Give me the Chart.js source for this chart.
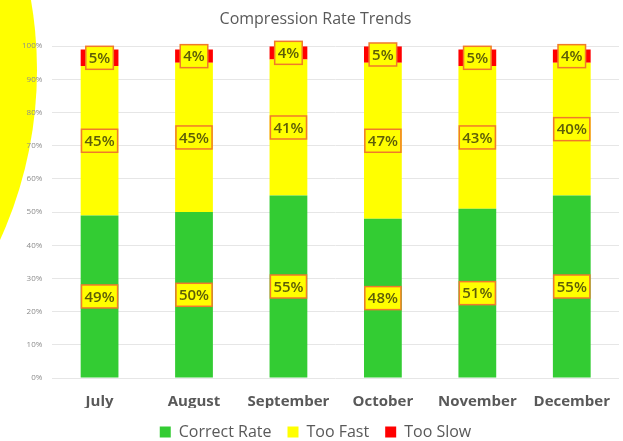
<!DOCTYPE html>
<html>
<head>
<meta charset="utf-8">
<script src="https://cdn.jsdelivr.net/npm/chart.js@4/dist/chart.umd.min.js"></script>
<style>
    html, body { margin: 0; padding: 0; background: #fff; }
    #wrap { position: relative; width: 623px; height: 441px; }
</style>
</head>
<body>
<div id="wrap"><canvas id="chart" width="623" height="441"></canvas></div>
<script>
const months = ['July', 'August', 'September', 'October', 'November', 'December'];
const correctRate = [49, 50, 55, 48, 51, 55];
const tooFast = [45, 45, 41, 47, 43, 40];
const tooSlow = [5, 4, 4, 5, 5, 4];
const yTicks = [0, 10, 20, 30, 40, 50, 60, 70, 80, 90, 100];

const FONT = '"Open Sans", "Noto Sans", sans-serif';

// yellow half-circle that pokes in from the left edge
const sideBlob = {
    id: 'sideBlob',
    beforeDraw: (chart) => {
        const ctx = chart.ctx;
        ctx.save();
        ctx.fillStyle = '#ffff00';
        ctx.beginPath();
        ctx.arc(-372, 70, 409, 0, Math.PI * 2);
        ctx.fill();
        ctx.restore();
    },
};

// boxed percentage labels on every segment
const boxLabels = {
    id: 'boxLabels',
    afterDatasetsDraw: (chart) => {
        const ctx = chart.ctx;
        ctx.save();
        ctx.font = '600 15px ' + FONT;
        ctx.textAlign = 'center';
        ctx.textBaseline = 'middle';
        chart.data.datasets.forEach((ds, i) => {
            const meta = chart.getDatasetMeta(i);
            meta.data.forEach((bar, j) => {
                const text = ds.data[j] + '%';
                const cx = bar.x;
                const cy = (bar.y + bar.base) / 2;
                const w = ctx.measureText(text).width + 6;
                const h = 23;
                ctx.fillStyle = '#ffff00';
                ctx.fillRect(cx - w / 2, cy - h / 2, w, h);
                ctx.strokeStyle = '#f07a2a';
                ctx.lineWidth = 1.5;
                ctx.strokeRect(cx - w / 2, cy - h / 2, w, h);
                ctx.fillStyle = '#5e5e08';
                ctx.fillText(text, cx, cy + 1);
            });
        });
        ctx.restore();
    },
};

new Chart(document.getElementById('chart').getContext('2d'), {
    type: 'bar',
    data: {
        labels: months,
        datasets: [
            { label: 'Correct Rate', data: correctRate, backgroundColor: '#33cc33' },
            { label: 'Too Fast', data: tooFast, backgroundColor: '#ffff00' },
            { label: 'Too Slow', data: tooSlow, backgroundColor: '#ff0000' },
        ],
    },
    options: {
        responsive: false,
        animation: false,
        layout: { padding: { left: 12, right: 4, top: 2, bottom: -9 } },
        datasets: { bar: { categoryPercentage: 1, barPercentage: 0.4 } },
        scales: {
            x: {
                stacked: true,
                grid: { display: false },
                border: { display: false },
                ticks: { color: '#595959', font: { family: FONT, size: 15, weight: 'bold' }, padding: 7 },
                afterFit: (axis) => { axis.height = 30; },
            },
            y: {
                stacked: true,
                min: 0,
                max: 100,
                afterBuildTicks: (axis) => { axis.ticks = yTicks.map((v) => ({ value: v })); },
                grid: { color: '#e6e6e6', drawTicks: false },
                border: { display: false },
                ticks: {
                    color: '#8c8c8c',
                    font: { family: FONT, size: 8 },
                    padding: 10,
                    callback: (v) => v + '%',
                },
            },
        },
        plugins: {
            title: {
                display: true,
                text: 'Compression Rate Trends',
                color: '#595959',
                font: { family: FONT, size: 16, weight: 'normal' },
                padding: { top: 8, bottom: 17 },
            },
            legend: {
                position: 'bottom',
                labels: {
                    color: '#595959',
                    font: { family: FONT, size: 16 },
                    boxWidth: 11,
                    boxHeight: 11,
                    padding: 16,
                },
            },
            tooltip: { enabled: false },
        },
    },
    plugins: [sideBlob, boxLabels],
});
</script>
</body>
</html>
